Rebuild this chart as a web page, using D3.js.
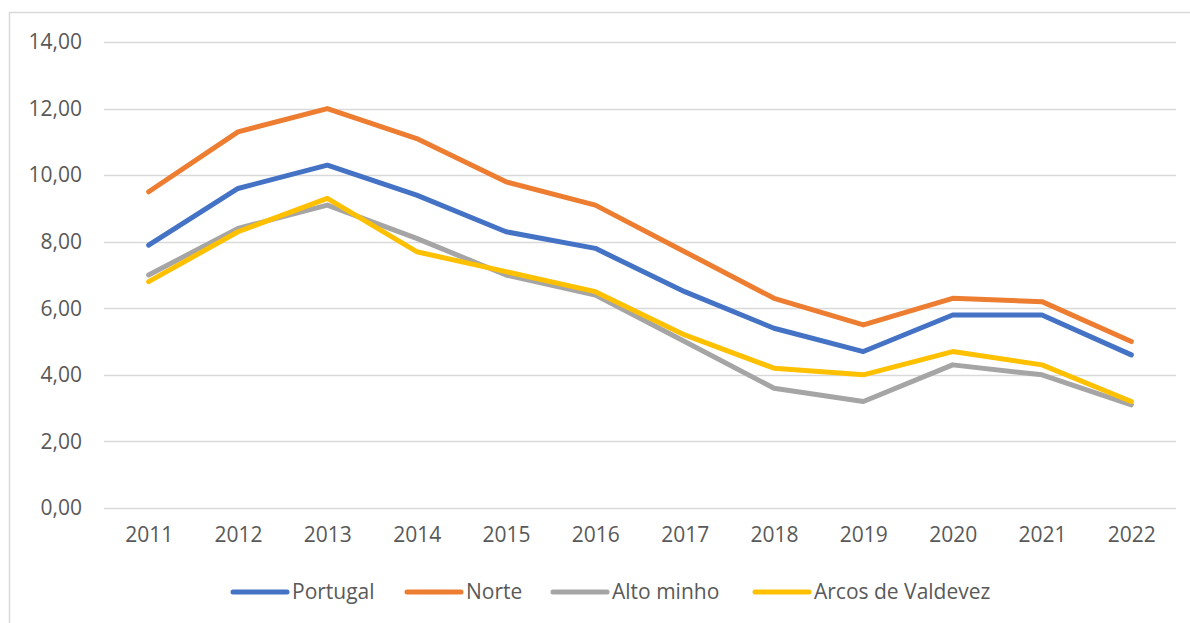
<!DOCTYPE html>
<html>
<head>
<meta charset="utf-8">
<script src="https://cdn.jsdelivr.net/npm/d3@7"></script>
<style>
  html, body { margin: 0; padding: 0; background: #fff; }
  svg { display: block; }
  text { font-family: "Open Sans", "Noto Sans", sans-serif; fill: #595959; }
</style>
</head>
<body>
<div id="viz"></div>
<script>
// Datos
const anos = ["2011", "2012", "2013", "2014", "2015", "2016", "2017", "2018", "2019", "2020", "2021", "2022"];
const portugal = [7.9, 9.6, 10.3, 9.4, 8.3, 7.8, 6.5, 5.4, 4.7, 5.8, 5.8, 4.6];
const norte = [9.5, 11.3, 12.0, 11.1, 9.8, 9.1, 7.7, 6.3, 5.5, 6.3, 6.2, 5.0];
const altoMinho = [7.0, 8.4, 9.1, 8.1, 7.0, 6.4, 5.0, 3.6, 3.2, 4.3, 4.0, 3.1];
const arcos = [6.8, 8.3, 9.3, 7.7, 7.1, 6.5, 5.2, 4.2, 4.0, 4.7, 4.3, 3.2];
const yTicks = [0, 2, 4, 6, 8, 10, 12, 14];

const series = [
    { nome: "Portugal", valores: portugal, cor: "#4472c4" },
    { nome: "Norte", valores: norte, cor: "#ed7d31" },
    { nome: "Alto minho", valores: altoMinho, cor: "#a5a5a5" },
    { nome: "Arcos de Valdevez", valores: arcos, cor: "#ffc000" }
];

const width = 1190;
const height = 623;
const margem = { left: 104, right: 1176, top: 42, bottom: 508 };
const tamanhoFonte = '21px';

const svg = d3.select('#viz').append('svg')
    .attr('width', width)
    .attr('height', height);

// Borda do gráfico
svg.append('rect')
    .attr('x', 9.5).attr('y', 12.5)
    .attr('width', 1300).attr('height', 800)
    .attr('fill', 'none')
    .attr('stroke', '#d9d9d9')
    .attr('stroke-width', 1.5);

const x = d3.scalePoint()
    .domain(anos)
    .range([margem.left, margem.right])
    .padding(0.5);

const y = d3.scaleLinear()
    .domain([0, 14])
    .range([margem.bottom, margem.top]);

const pt = d3.formatLocale({ decimal: ",", thousands: ".", grouping: [3], currency: ["", "€"] });
const fmt = pt.format(".2f");

// Linhas de grelha
svg.append('g')
    .selectAll('line')
    .data(yTicks)
    .enter().append('line')
    .attr('x1', margem.left)
    .attr('x2', margem.right)
    .attr('y1', d => Math.round(y(d)) + 0.5)
    .attr('y2', d => Math.round(y(d)) + 0.5)
    .attr('stroke', '#d9d9d9')
    .attr('stroke-width', 1.5);

// Eixo Y
const eixoY = svg.append('g')
    .attr('transform', `translate(${margem.left},0)`)
    .call(d3.axisLeft(y).tickValues(yTicks).tickFormat(fmt).tickSize(0).tickPadding(22));
eixoY.select('.domain').remove();
eixoY.selectAll('text')
    .attr('fill', '#595959')
    .style('font-size', tamanhoFonte);

// Eixo X
const eixoX = svg.append('g')
    .attr('transform', `translate(0,${margem.bottom})`)
    .call(d3.axisBottom(x).tickSize(0).tickPadding(19));
eixoX.select('.domain').remove();
eixoX.selectAll('text')
    .attr('fill', '#595959')
    .style('font-size', tamanhoFonte);

// Linhas das séries
const linha = d3.line()
    .x((d, i) => x(anos[i]))
    .y(d => y(d));

svg.append('g')
    .selectAll('path')
    .data(series)
    .enter().append('path')
    .attr('d', d => linha(d.valores))
    .attr('fill', 'none')
    .attr('stroke', d => d.cor)
    .attr('stroke-width', 5)
    .attr('stroke-linejoin', 'round')
    .attr('stroke-linecap', 'round');

// Legenda
const legendaX = [233, 407, 553, 755];
const legenda = svg.append('g')
    .selectAll('g')
    .data(series)
    .enter().append('g')
    .attr('transform', (d, i) => `translate(${legendaX[i]},592)`);

legenda.append('line')
    .attr('x1', 0).attr('x2', 54)
    .attr('stroke', d => d.cor)
    .attr('stroke-width', 5)
    .attr('stroke-linecap', 'round');

legenda.append('text')
    .attr('x', 59)
    .attr('dy', '0.35em')
    .style('font-size', tamanhoFonte)
    .text(d => d.nome);
</script>
</body>
</html>
